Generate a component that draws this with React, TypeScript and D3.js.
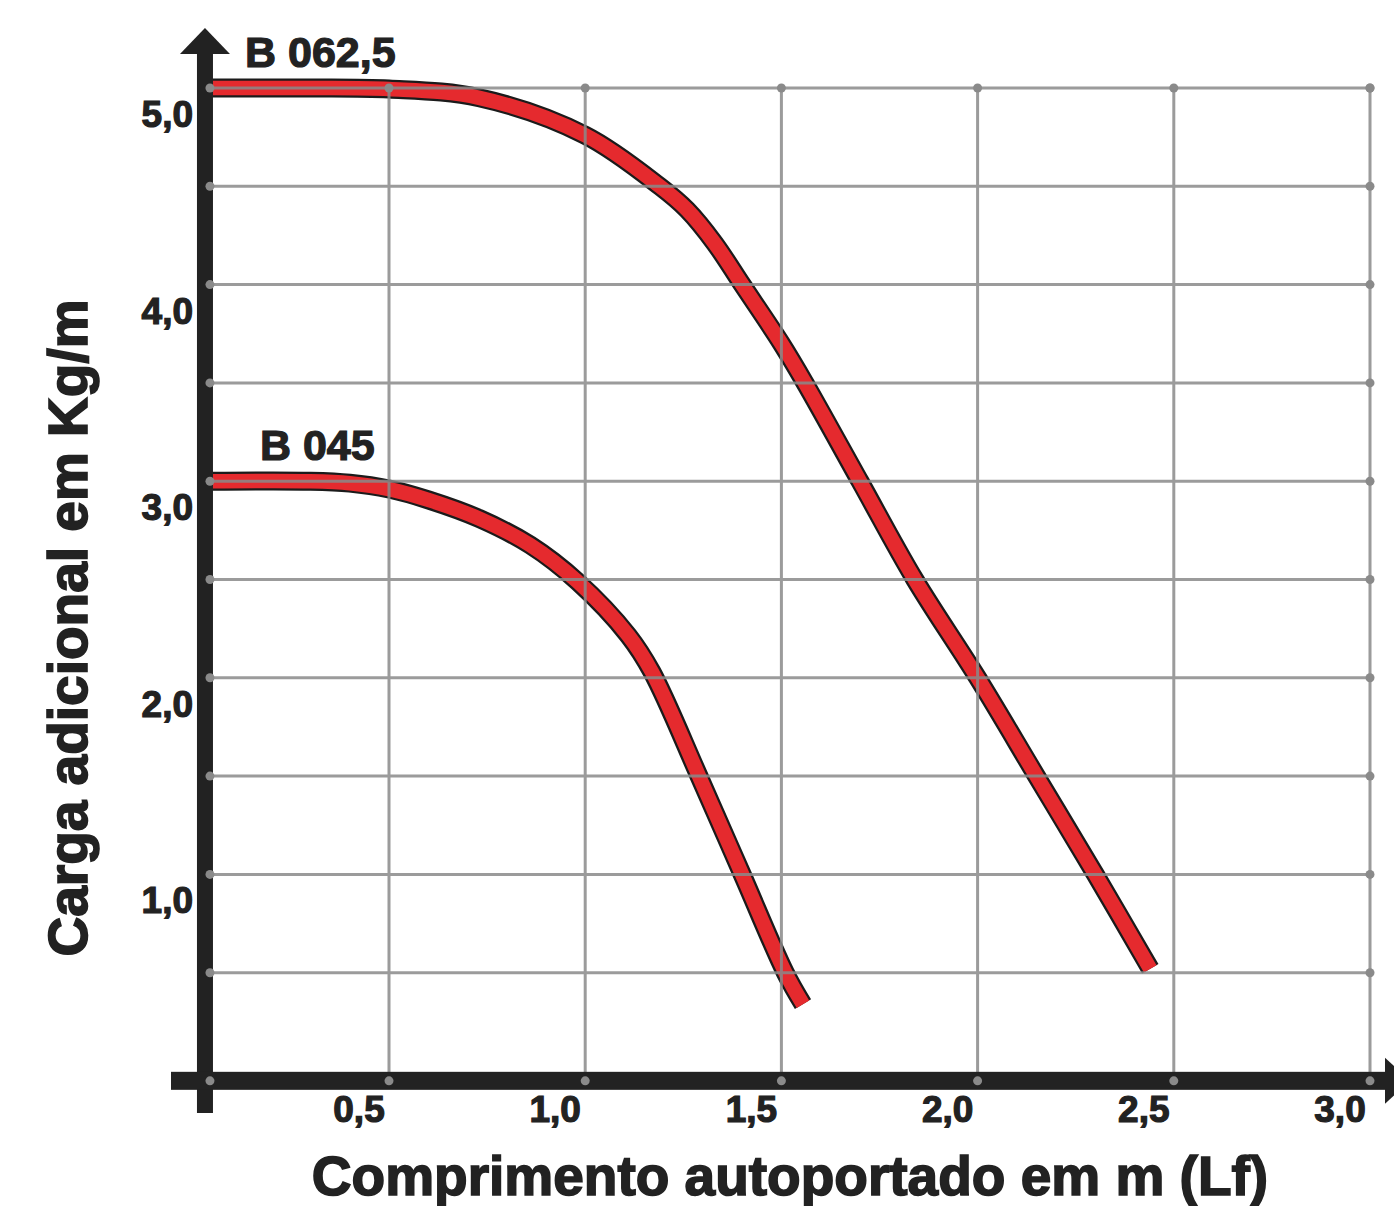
import * as d3 from 'd3';

// series (x in m, y in kg/m)
const b0625X = [0.05, 0.25, 0.5, 0.73, 1.0, 1.19, 1.26, 1.33, 1.4, 1.5, 1.56, 1.7, 1.84, 2.0, 2.15, 2.3, 2.44];
const b0625Y = [5.0, 5.0, 4.995, 4.95, 4.76, 4.5, 4.38, 4.21, 4.0, 3.7, 3.5, 3.0, 2.5, 2.0, 1.5, 1.0, 0.52];

const b045X = [0.05, 0.3, 0.4, 0.5, 0.6, 0.73, 0.86, 0.98, 1.11, 1.17, 1.29, 1.4, 1.51, 1.555];
const b045Y = [3.0, 3.0, 2.99, 2.96, 2.905, 2.81, 2.675, 2.49, 2.215, 2.03, 1.5, 1.0, 0.5, 0.34];

const xTicks = [0.5, 1.0, 1.5, 2.0, 2.5, 3.0];
const xTickLabels = ['0,5', '1,0', '1,5', '2,0', '2,5', '3,0'];
const yTicks = [1, 2, 3, 4, 5];
const yTickLabels = ['1,0', '2,0', '3,0', '4,0', '5,0'];
const yGrid = [0.5, 1, 1.5, 2, 2.5, 3, 3.5, 4, 4.5, 5];

const seriesLabels = [
  { text: 'B 062,5', x: 0.133, y: 5.107 },
  { text: 'B 045', x: 0.171, y: 3.108 },
];

const W = 1394;
const H = 1206;
const font = '"Liberation Sans", Arial, sans-serif';
const ink = '#222';
const gridColor = '#8a8a8a';
const red = '#e52a2e';

const x = d3.scaleLinear().domain([0, 3]).range([192.8, 1370]);
const y = d3.scaleLinear().domain([0, 5]).range([1071, 88]);

const axisX = x(0.031); // y axis sits just right of the origin
const axisY = y(-0.05); // x axis sits just under zero

const line = d3
  .line<[number, number]>()
  .x((d) => x(d[0]))
  .y((d) => y(d[1]))
  .curve(d3.curveCatmullRom.alpha(0.5));

const curves = [
  d3.zip(b0625X, b0625Y) as [number, number][],
  d3.zip(b045X, b045Y) as [number, number][],
];

export default function App() {
  return (
    <div style={{ position: 'absolute', left: 0, top: 0 }}>
      <svg width={W} height={H} viewBox={`0 0 ${W} ${H}`} style={{ display: 'block', background: '#fff' }}>
        {/* curves: dark outline then red fill */}
        {curves.map((c, i) => (
          <g key={i}>
            <path d={line(c) ?? ''} fill="none" stroke="#1b1b1b" strokeWidth={19} strokeLinecap="butt" />
            <path d={line(c) ?? ''} fill="none" stroke={red} strokeWidth={14.5} strokeLinecap="butt" />
          </g>
        ))}

        {/* grid over the curves */}
        <g stroke={gridColor} strokeWidth={3} opacity={0.85}>
          {xTicks.map((t) => (
            <line key={`v${t}`} x1={x(t)} x2={x(t)} y1={y(5)} y2={axisY} />
          ))}
          {yGrid.map((t) => (
            <line key={`h${t}`} x1={axisX} x2={x(3)} y1={y(t)} y2={y(t)} />
          ))}
        </g>

        {/* axes */}
        <g fill={ink} stroke="none">
          <rect x={axisX - 8} y={50} width={16} height={1113 - 50} />
          <path d={`M${axisX},28 L${axisX + 25},54 L${axisX - 25},54 Z`} />
          <rect x={171} y={axisY - 9} width={1390 - 171} height={18} />
          <path d={`M1410,${axisY} L1385,${axisY - 23} L1385,${axisY + 23} Z`} />
        </g>

        {/* grid dots */}
        <g fill={gridColor}>
          {xTicks.map((t) => (
            <circle key={`dt${t}`} cx={x(t)} cy={y(5)} r={4.5} />
          ))}
          {xTicks.map((t) => (
            <circle key={`db${t}`} cx={x(t)} cy={axisY} r={4.5} />
          ))}
          {yGrid.map((t) => (
            <circle key={`dl${t}`} cx={axisX + 5} cy={y(t)} r={4.5} />
          ))}
          {yGrid.map((t) => (
            <circle key={`dr${t}`} cx={x(3)} cy={y(t)} r={4.5} />
          ))}
          <circle cx={axisX + 5} cy={axisY} r={4.5} />
        </g>

        {/* tick labels */}
        <g fontFamily={font} fontWeight="bold" fontSize={37} fill={ink} stroke={ink} strokeWidth={1.2}>
          {xTicks.map((t, i) => (
            <text key={`xl${t}`} x={x(t) - 30} y={1122} textAnchor="middle">
              {xTickLabels[i]}
            </text>
          ))}
          {yTicks.map((t, i) => (
            <text key={`yl${t}`} x={193} y={y(t) + 39} textAnchor="end">
              {yTickLabels[i]}
            </text>
          ))}
        </g>

        {/* series labels */}
        <g fontFamily={font} fontWeight="bold" fontSize={43} fill={ink} stroke={ink} strokeWidth={1.2}>
          {seriesLabels.map((s) => (
            <text key={s.text} x={x(s.x)} y={y(s.y)}>
              {s.text}
            </text>
          ))}
        </g>

        {/* axis titles */}
        <g fontFamily={font} fontWeight="bold" fontSize={55} fill={ink} stroke={ink} strokeWidth={1.6}>
          <text x={790} y={1195} textAnchor="middle">
            Comprimento autoportado em m (Lf)
          </text>
          <text transform="translate(87,628) rotate(-90)" textAnchor="middle">
            Carga adicional em Kg/m
          </text>
        </g>
      </svg>
    </div>
  );
}
